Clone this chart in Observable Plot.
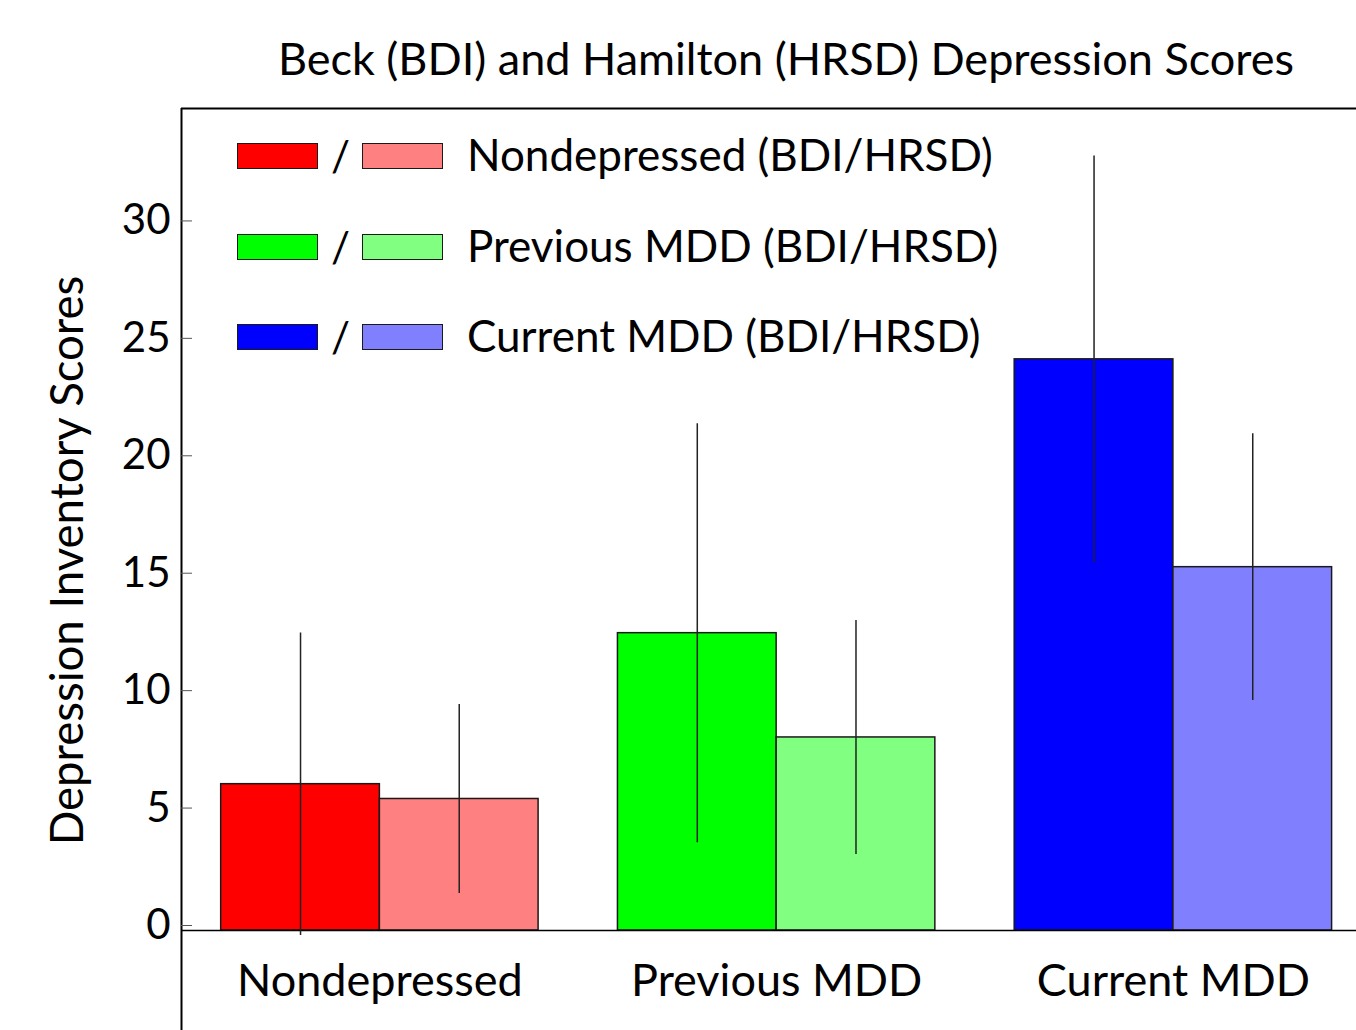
<!DOCTYPE html>
<html><head><meta charset="utf-8">
<script src="https://cdn.jsdelivr.net/npm/d3@7"></script>
<script src="https://cdn.jsdelivr.net/npm/@observablehq/plot@0.6"></script>
<style>
body{margin:0;background:#fff;font-family:Lato,sans-serif;color:#000;}
#wrap{position:relative;width:1356px;height:1030px;overflow:hidden;background:#fff;}
#title{position:relative;height:100px;}
#title span{position:absolute;left:786px;top:36px;transform:translateX(-50%);white-space:nowrap;font-size:45px;line-height:45px;}
#legend{position:absolute;left:0;top:0;}
.row{position:absolute;left:237px;height:26px;}
.sw{position:absolute;top:0;width:79px;height:24px;border:1px solid #1a1a1a;}
.slash{position:absolute;left:94px;top:-9px;font-size:42px;line-height:42px;}
.lab{position:absolute;left:230px;top:-11px;font-size:44px;line-height:44px;white-space:nowrap;}
#chart svg{display:block;}
</style></head><body>
<div id="wrap">
  <div id="title"><span id="titletext"></span></div>
  <div id="chart"></div>
  <div id="legend"></div>
</div>
<script>
const title = "Beck (BDI) and Hamilton (HRSD) Depression Scores";
const yLabel = "Depression Inventory Scores";
const groups = ["Nondepressed", "Previous MDD", "Current MDD"];
const measures = ["BDI", "HRSD"];
const bdiMeans = [6.23, 12.66, 24.32];
const bdiSD = [6.44, 8.92, 8.66];
const hrsdMeans = [5.60, 8.22, 15.47];
const hrsdSD = [4.02, 4.98, 5.68];
const bdiColors = ["#ff0000", "#00ff00", "#0000ff"];
const hrsdColors = ["#ff8080", "#80ff80", "#8080ff"];
const legendLabels = ["Nondepressed (BDI/HRSD)", "Previous MDD (BDI/HRSD)", "Current MDD (BDI/HRSD)"];
const yTicks = [0, 5, 10, 15, 20, 25, 30];

document.getElementById("titletext").textContent = title;

const rows = [];
groups.forEach((g, i) => {
  rows.push({group: g, gi: i, measure: "BDI", mean: bdiMeans[i], sd: bdiSD[i], color: bdiColors[i]});
  rows.push({group: g, gi: i, measure: "HRSD", mean: hrsdMeans[i], sd: hrsdSD[i], color: hrsdColors[i]});
});

const barW = 0.4;
const left = d => d.gi + (d.measure === "BDI" ? -barW : 0);
const xDomain = [-0.5, 2.4615];
const yDomain = [0, 35];
const yBottom = -4.26;

const chart = Plot.plot({
  width: 1356,
  height: 930,
  marginTop: 8,
  marginBottom: 100,
  marginLeft: 181,
  marginRight: 0,
  style: {fontFamily: "Lato, sans-serif", fontSize: "42px", background: "#fff", color: "#000"},
  x: {domain: xDomain, axis: null},
  y: {domain: yDomain, axis: null},
  color: {type: "identity"},
  marks: [
    Plot.rect(rows, {x1: left, x2: d => left(d) + barW, y1: 0, y2: "mean", fill: "color", stroke: "#1a1a1a", strokeWidth: 1.5}),
    Plot.ruleY([0], {stroke: "#000", strokeWidth: 1.5}),
    Plot.ruleY([yDomain[1]], {stroke: "#000", strokeWidth: 2}),
    Plot.ruleX([xDomain[0]], {y1: yBottom, y2: yDomain[1], stroke: "#000", strokeWidth: 2}),
    Plot.ruleX(rows, {x: d => left(d) + barW / 2, y1: d => d.mean - d.sd, y2: d => d.mean + d.sd, stroke: "#222", strokeWidth: 1.5}),
    Plot.axisY({ticks: yTicks, label: null, tickSize: -11, tickPadding: 22, stroke: "#555", fontSize: 42, dy: -5, tickFormat: d => String(d)}),
    Plot.axisX({ticks: [0, 1, 2], label: null, tickFormat: i => groups[i], tickSize: 0, tickPadding: 34, fontSize: 45}),
    Plot.text([yLabel], {frameAnchor: "left", rotate: -90, dx: -113, dy: 41, fontSize: 45.5, textAnchor: "middle", lineAnchor: "middle"})
  ]
});
document.getElementById("chart").appendChild(chart);

const legend = document.getElementById("legend");
legendLabels.forEach((lab, i) => {
  const r = document.createElement("div");
  r.className = "row";
  r.style.top = (143 + i * 90.5) + "px";
  const s1 = document.createElement("div"); s1.className = "sw"; s1.style.left = "0px"; s1.style.background = bdiColors[i];
  const sl = document.createElement("div"); sl.className = "slash"; sl.textContent = "/";
  const s2 = document.createElement("div"); s2.className = "sw"; s2.style.left = "125px"; s2.style.background = hrsdColors[i];
  const t = document.createElement("div"); t.className = "lab"; t.textContent = lab;
  r.append(s1, sl, s2, t);
  legend.appendChild(r);
});
</script>
</body></html>
